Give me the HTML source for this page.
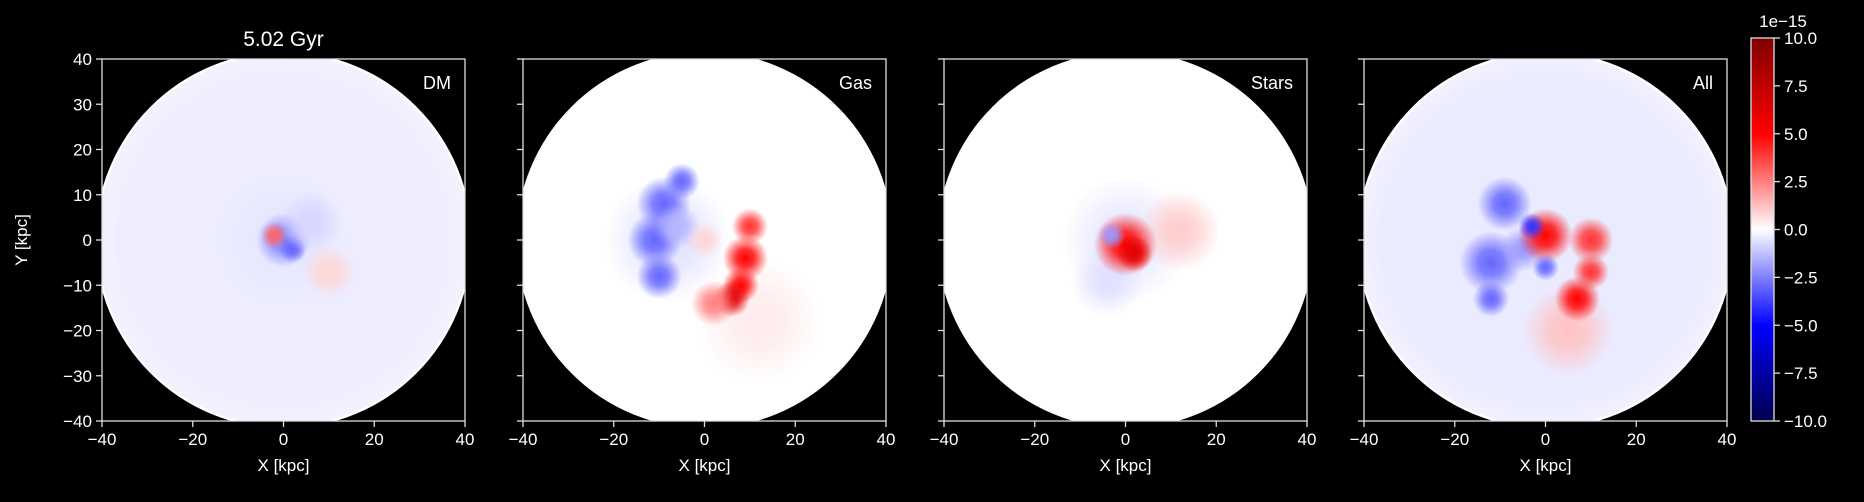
<!DOCTYPE html>
<html><head><meta charset="utf-8"><style>
html,body{margin:0;padding:0;background:#000;}
svg text{font-family:"Liberation Sans","DejaVu Sans",sans-serif;fill:#fff;}
</style></head><body>
<svg id="fig" width="1864" height="497" viewBox="0 0 1864 497" xmlns="http://www.w3.org/2000/svg">
<rect width="1864" height="497" fill="#000"/>
<defs id="defs"></defs>
<g id="panels"></g>
<g id="cbar"></g>
</svg>
<script>
const panelNames = ["DM","Gas","Stars","All"];
const xTicks = [-40,-20,0,20,40];
const yTicks = [40,30,20,10,0,-10,-20,-30,-40];
const cbTicks = [10,7.5,5,2.5,0,-2.5,-5,-7.5,-10];
const cbTickLabels = ["10.0","7.5","5.0","2.5","0.0","\u22122.5","\u22125.0","\u22127.5","\u221210.0"];
// blobs: [x kpc, y kpc, radius kpc, value (1e-15)]
const blobsDM = [[0,0,41,-0.35],[0,0,14,-0.5],[0,0,6,-2.5],[-2,1,3,3],[2,-2,3,-3],[6,4,7,-0.8],[10,-7,6,0.8]];
const blobsGas = [[-8,0,14,-0.6],[12,-18,14,0.4],[-9,8,6,-3],[-11,0,6,-3],[-10,-8,5,-3],[-5,13,4,-3],[-6,3,5,-1.5],[10,3,4,4],[9,-4,5,5],[8,-10,4,5],[6,-13,4,6],[2,-14,5,2.5],[0,0,4,0.8]];
const blobsStars = [[0,0,14,-0.5],[12,2,9,1],[-4,-9,8,-0.6],[0,-1,7,5],[2,-3,4,6],[-3,1,3,-2]];
const blobsAll = [[0,0,41,-0.4],[5,-20,10,1.2],[-12,-5,7,-3],[-9,8,6,-3],[-12,-13,4,-3],[-5,-2,5,-2],[0,1,6,5],[-3,3,3,-4],[10,0,5,4],[10,-7,4,4],[7,-13,5,5],[0,-6,3,-3]];
const allBlobs = [blobsDM, blobsGas, blobsStars, blobsAll];

const NS="http://www.w3.org/2000/svg";
const lefts=[102,523,944,1364], TOP=59, W=363, H=362;
function sx(p,x){return lefts[p]+(x+40)/80*W;}
function sy(y){return TOP+(40-y)/80*H;}
function mk(tag,attrs,parent){const e=document.createElementNS(NS,tag);for(const k in attrs)e.setAttribute(k,attrs[k]);parent.appendChild(e);return e;}
function seismic(v){let t=(v+10)/20;t=Math.max(0,Math.min(1,t));let r,g,b;
 if(t<0.25){const u=t/0.25;r=0;g=0;b=0.3+0.7*u;}
 else if(t<0.5){const u=(t-0.25)/0.25;r=u;g=u;b=1;}
 else if(t<0.75){const u=(t-0.5)/0.25;r=1;g=1-u;b=1-u;}
 else{const u=(t-0.75)/0.25;r=1-0.5*u;g=0;b=0;}
 return `rgb(${Math.round(r*255)},${Math.round(g*255)},${Math.round(b*255)})`;}
const defs=document.getElementById('defs');
const panels=document.getElementById('panels');
let gid=0;
for(let p=0;p<4;p++){
 const g=mk('g',{},panels);
 
 
 const cp=mk('clipPath',{id:'clip'+p},defs);
 mk('rect',{x:lefts[p],y:TOP,width:W,height:H},cp);
 const cd=mk('clipPath',{id:'disk'+p},defs);
 mk('circle',{cx:sx(p,0),cy:sy(0),r:41.5/80*W},cd);
 const hm=mk('g',{'clip-path':'url(#clip'+p+')'},g);
 const hm2=mk('g',{'clip-path':'url(#disk'+p+')'},hm);
 
 
 mk('rect',{x:lefts[p],y:TOP,width:W,height:H,fill:'#fff'},hm2);
 allBlobs[p].forEach(b=>{
  const id='gr'+(gid++);const col=seismic(b[3]);
  const rg=mk('radialGradient',{id:id},defs);
  const big=b[2]>30;
  mk('stop',{offset:'0','stop-color':col,'stop-opacity':1},rg);
  mk('stop',{offset:big?'0.85':'0.4','stop-color':col,'stop-opacity':big?1:0.8},rg);
  mk('stop',{offset:'1','stop-color':col,'stop-opacity':big?0.7:0},rg);
  const c=mk('circle',{cx:sx(p,b[0]),cy:sy(b[1]),r:b[2]/80*W,fill:'url(#'+id+')'},hm2);
  
  
 });
 const fr=mk('rect',{x:lefts[p],y:TOP,width:W,height:H,fill:'none',stroke:'#ddd','stroke-width':1.3},g);
 
 
 xTicks.forEach(t=>{
  mk('line',{x1:sx(p,t),x2:sx(p,t),y1:TOP+H,y2:TOP+H+6,stroke:'#ddd','stroke-width':1.3},g);
  const tx=mk('text',{x:sx(p,t),y:TOP+H+24,'font-size':17,'text-anchor':'middle'},g);
  tx.textContent=t<0?'\u2212'+(-t):String(t);
  
  
 });
 yTicks.forEach(t=>{
  mk('line',{x1:lefts[p]-6,x2:lefts[p],y1:sy(t),y2:sy(t),stroke:'#ddd','stroke-width':1.3},g);
  if(p===0){const ty=mk('text',{x:lefts[p]-10,y:sy(t)+6,'font-size':17,'text-anchor':'end'},g);
   ty.textContent=t<0?'\u2212'+(-t):String(t);
   
   }
 });
 const xl=mk('text',{x:lefts[p]+W/2,y:TOP+H+50,'font-size':17,'text-anchor':'middle'},g);
 xl.textContent='X [kpc]';
 
 
 const nl=mk('text',{x:lefts[p]+W-14,y:TOP+30,'font-size':18,'text-anchor':'end',fill:'#eee'},g);
 nl.textContent=panelNames[p];
 
 
}
const yl=mk('text',{x:27,y:TOP+H/2,'font-size':17,'text-anchor':'middle',transform:`rotate(-90 27 ${TOP+H/2})`},panels);
yl.textContent='Y [kpc]';


const tt=mk('text',{x:lefts[0]+W/2,y:46,'font-size':21,'text-anchor':'middle'},panels);
tt.textContent='5.02 Gyr';


// colorbar
const cb=document.getElementById('cbar');
const CBX=1751,CBW=23,CBT=38,CBB=421;
function cy(v){return CBT+(10-v)/20*(CBB-CBT);}
const lg=mk('linearGradient',{id:'cbg',x1:0,y1:1,x2:0,y2:0},defs);
for(let i=0;i<=20;i++){mk('stop',{offset:i/20,'stop-color':seismic(-10+i)},lg);}
mk('rect',{x:CBX,y:CBT,width:CBW,height:CBB-CBT,fill:'url(#cbg)',stroke:'#ddd','stroke-width':1.3},cb);
cbTicks.forEach((t,i)=>{
 mk('line',{x1:CBX+CBW,x2:CBX+CBW+6,y1:cy(t),y2:cy(t),stroke:'#ddd','stroke-width':1.3},cb);
 const tx=mk('text',{x:CBX+CBW+10,y:cy(t)+6,'font-size':17},cb);
 tx.textContent=cbTickLabels[i];
 
 
});
const ex=mk('text',{x:1783,y:27,'font-size':17,'text-anchor':'middle'},cb);
ex.textContent='1e\u221215';


</script>
</body></html>
